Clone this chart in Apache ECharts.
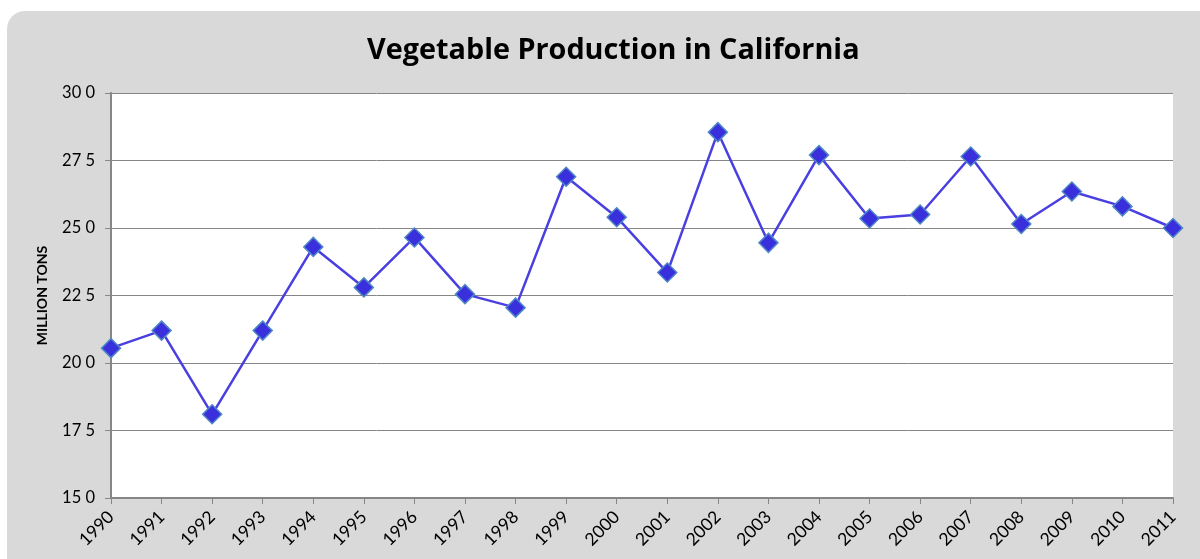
<!DOCTYPE html>
<html>
<head>
<meta charset="utf-8">
<script src="https://cdn.jsdelivr.net/npm/echarts@6/dist/echarts.min.js"></script>
<style>
  html, body { margin: 0; padding: 0; background: #ffffff; }
  #chart { width: 1200px; height: 559px; }
</style>
</head>
<body>
<div id="chart"></div>
<script>
// years on the x axis
const years = ['1990', '1991', '1992', '1993', '1994', '1995', '1996', '1997', '1998', '1999', '2000',
  '2001', '2002', '2003', '2004', '2005', '2006', '2007', '2008', '2009', '2010', '2011'];
// production, million tons
const production = [20.55, 21.2, 18.1, 21.2, 24.3, 22.8, 24.65, 22.55, 22.05, 26.9, 25.4,
  23.35, 28.55, 24.45, 27.7, 25.35, 25.5, 27.65, 25.15, 26.35, 25.8, 25.0];

const chart = echarts.init(document.getElementById('chart'));
const font = 'Lato, "Open Sans", sans-serif';

chart.setOption({
  animation: false,
  graphic: [{
    type: 'rect',
    z: -10,
    shape: { x: 7, y: 11, width: 1220, height: 600, r: 18 },
    style: { fill: '#d9d9d9' }
  }],
  title: {
    text: 'Vegetable Production in California',
    left: 362,
    top: 31,
    textStyle: { fontFamily: '"Open Sans", sans-serif', fontSize: 28.8, fontWeight: 'bold', color: '#000' }
  },
  grid: { left: 111, right: 27, top: 93, bottom: 61, show: true, backgroundColor: '#fff', borderWidth: 0 },
  xAxis: {
    type: 'category',
    data: years,
    boundaryGap: false,
    axisLine: { lineStyle: { color: '#868686', width: 2 } },
    axisTick: { alignWithLabel: true, length: 6, lineStyle: { color: '#868686' } },
    axisLabel: { rotate: 45, margin: 16, fontFamily: font, fontSize: 17.5, color: '#000', interval: 0 },
    splitLine: { show: false }
  },
  yAxis: {
    type: 'value',
    min: 15,
    max: 30,
    interval: 2.5,
    name: 'MILLION TONS',
    nameLocation: 'middle',
    nameGap: 62,
    nameTextStyle: { fontFamily: font, fontSize: 14, fontWeight: 'bold', color: '#000' },
    axisLine: { show: true, lineStyle: { color: '#868686', width: 2 } },
    axisTick: { show: true, length: 6, lineStyle: { color: '#868686' } },
    axisLabel: {
      margin: 16,
      fontFamily: font,
      fontSize: 16.5,
      color: '#000',
      formatter: v => v.toFixed(1).replace('.', ' ')
    },
    splitLine: { lineStyle: { color: '#868686', width: 1 } }
  },
  series: [{
    type: 'line',
    data: production,
    symbol: 'diamond',
    symbolSize: 19,
    lineStyle: { color: '#4a3fe0', width: 2.5 },
    itemStyle: { color: '#3a2fdc', borderColor: '#4f86c6', borderWidth: 1.5 }
  }]
});
</script>
</body>
</html>
